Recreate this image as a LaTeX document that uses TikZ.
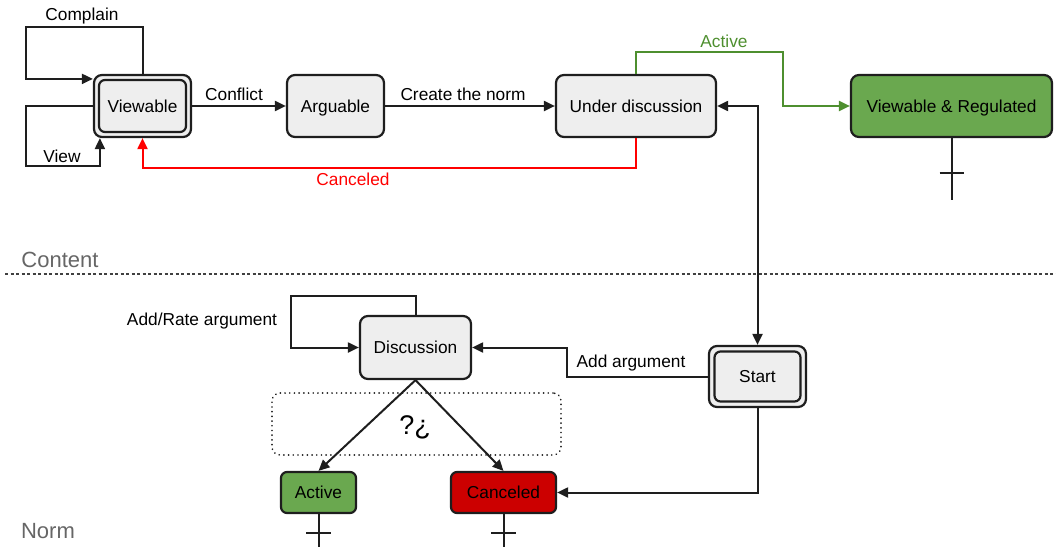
\documentclass[tikz,border=0pt]{standalone}
\usepackage{fontspec}
\setmainfont{Liberation Sans}
\usetikzlibrary{arrows.meta}
\definecolor{boxfill}{HTML}{EEEEEE}
\definecolor{boxline}{HTML}{1E1E1E}
\definecolor{okfill}{HTML}{6AA84F}
\definecolor{okline}{HTML}{4E8F2F}
\definecolor{badfill}{HTML}{CC0000}
\definecolor{badline}{HTML}{FF0000}
\definecolor{lanegray}{HTML}{666666}

\begin{document}
\begin{tikzpicture}[x=1pt, y=-1pt,
  font=\fontsize{17.3}{20}\selectfont,
  state/.style={draw=boxline, line width=2.2pt, fill=boxfill, rounded corners=8pt,
    inner sep=0pt, minimum height=62pt, text height=12.5pt, text depth=0pt},
  innerstate/.style={draw=boxline, line width=2.2pt, fill=boxfill, rounded corners=6pt,
    inner sep=0pt, text height=12.5pt, text depth=0pt},
  small/.style={state, minimum height=41pt, rounded corners=6pt},
  tip/.tip={Triangle[length=11pt,width=10pt]},
  arr/.style={draw=boxline, line width=2pt, -tip},
  both/.style={draw=boxline, line width=2pt, tip-tip},
  plain/.style={draw=boxline, line width=2pt},
  lane/.style={text=lanegray, font=\fontsize{22}{26}\selectfont},
]
\useasboundingbox (0,0) rectangle (1056,546);

% lane separator and lane names
\coordinate (sepL) at (5,274);
\coordinate (sepR) at (1056,274);
\draw[boxline!85, line width=1.2pt, dash pattern=on 3pt off 2.5pt] (sepL) -- (sepR);
\node[lane] (lane-content) at (60,260) {Content};
\node[lane] (lane-norm) at (48,531) {Norm};

% ---------- content states ----------
\node[state, minimum width=97pt] (viewable) at (142.5,106) {};
\node[innerstate, minimum width=87pt, minimum height=52pt] (viewable-in) at (viewable.center) {Viewable};
\node[state, minimum width=97pt] (arguable) at (335.5,106) {Arguable};
\node[state, minimum width=160pt] (undis) at (636,106) {Under discussion};
\node[state, fill=okfill, minimum width=201pt] (vr) at (951.5,106) {Viewable \& Regulated};

% ---------- norm states ----------
\node[state, minimum width=111pt, minimum height=63pt] (disc) at (415.5,347.5) {Discussion};
\node[state, minimum width=97pt, minimum height=61pt] (start) at (757.5,376.5) {};
\node[innerstate, minimum width=86pt, minimum height=50pt] (start-in) at (start.center) {Start};
\node[small, fill=okfill, minimum width=75pt] (active) at (318.5,492.5) {Active};
\node[small, fill=badfill, minimum width=105pt] (canc) at (503.5,492.5) {Canceled};

% undecided region
\node[draw=boxline, line width=1.8pt, dash pattern=on 0.1pt off 4.6pt, line cap=round,
  rounded corners=8pt, minimum width=289pt, minimum height=62pt, inner sep=0pt]
  (choice) at (416.5,424) {};
\node[font=\fontsize{27}{30}\selectfont] (choice-mark) at (415,427) {?¿};

% ---------- content transitions ----------
\draw[arr] (viewable.north) |- (26,27) |- ([yshift=-5pt]viewable.north west);
\node (lbl-complain) at (82,16) {Complain};

\draw[arr] (viewable.west) -| (26,166) -| ([xshift=7pt]viewable.south west);
\node (lbl-view) at (62,156) {View};

\draw[arr] (viewable.east) -- (arguable.west);
\node (lbl-conflict) at (234,94) {Conflict};

\draw[arr] (arguable.east) -- (undis.west);
\node (lbl-create) at (463,94) {Create the norm};

\draw[arr, draw=okline, color=okline] (undis.north) |- (783,52) |- (vr.west);
\node[text=okline] (lbl-active) at (724,41) {Active};

\draw[arr, draw=badline, color=badline] (undis.south) -- ++(0,30) -| (viewable.south);
\node[text=badline] (lbl-canceled) at (353,179) {Canceled};

\draw[both] (undis.east) -| (start.north);

% final marker under the regulated state
\draw[plain] (vr.south) -- ++(0,62);
\coordinate (vr-bar) at (951.5,173);
\draw[plain] ([xshift=-12pt]vr-bar) -- ([xshift=12pt]vr-bar);

% ---------- norm transitions ----------
\draw[arr] (disc.north) |- (291,296) |- (disc.west);
\node (lbl-rate) at (202,321) {Add/Rate argument};

\draw[arr] (start.west) -| (567,347.5) -- (disc.east);
\node (lbl-add) at (631,363) {Add argument};

\draw[arr] (start.south) |- (canc.east);

\draw[arr] (disc.south) -- (active.north);
\draw[arr] (disc.south) -- (canc.north);

% final markers under the norm outcomes
\draw[plain] (active.south) -- ++(0,34);
\coordinate (active-bar) at (318.5,533);
\draw[plain] ([xshift=-12.5pt]active-bar) -- ([xshift=12.5pt]active-bar);
\draw[plain] (canc.south) -- ++(0,34);
\coordinate (canc-bar) at (503.5,533);
\draw[plain] ([xshift=-12.5pt]canc-bar) -- ([xshift=12.5pt]canc-bar);
\end{tikzpicture}
\end{document}
